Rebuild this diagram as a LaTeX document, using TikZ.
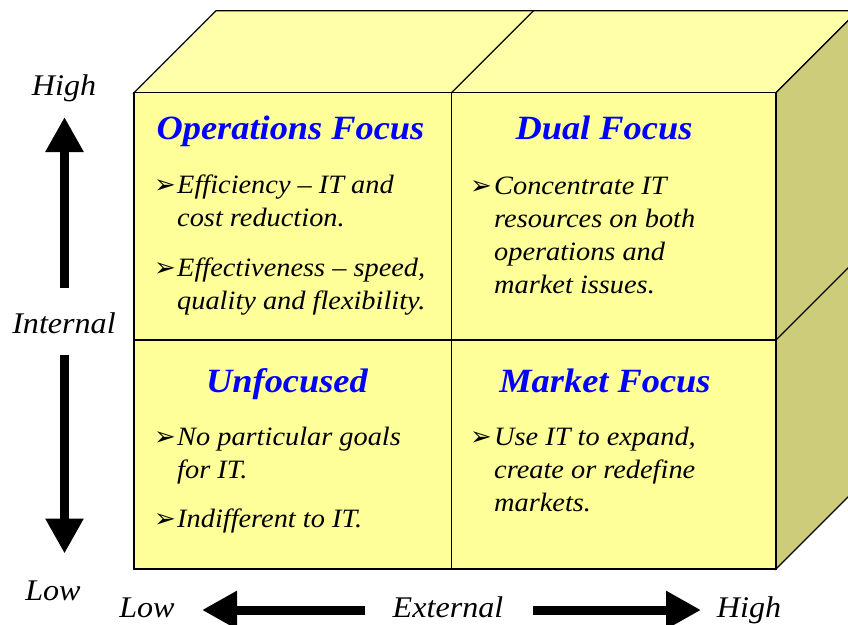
\documentclass[tikz,border=0pt]{standalone}
\usepackage{fontspec}
\setmainfont{Liberation Serif}
\newfontfamily\symfont{DejaVu Sans}
\newfontfamily\strfont[FakeStretch=1.07]{Liberation Serif}
\usetikzlibrary{arrows.meta}
\definecolor{frontY}{RGB}{255,255,153}
\definecolor{topY}{RGB}{255,255,170}
\definecolor{sideY}{RGB}{204,204,122}
\definecolor{titleB}{RGB}{0,0,255}
\tikzset{
  face/.style={draw=black, line width=1.3pt, line join=miter},
  divider/.style={draw=black, line width=1.3pt},
  celltitle/.style={font=\strfont\bfseries\itshape\fontsize{34}{34}\selectfont, text=titleB, anchor=base, inner sep=0pt},
  bodytext/.style={font=\strfont\itshape\fontsize{26.5}{33}\selectfont, anchor=base west, inner sep=0pt},
  bulletmark/.style={font=\symfont\fontsize{26}{26}\selectfont, anchor=base west, inner sep=0pt},
  axislabel/.style={font=\strfont\itshape\fontsize{30}{30}\selectfont, anchor=base, inner sep=0pt},
  bigarrow/.style={line width=9pt, -{Triangle[length=35pt,width=36pt]}},
}
\begin{document}
\begin{tikzpicture}[x=1pt,y=-1pt]
\useasboundingbox (0,0) rectangle (848,624);
\fill[white] (0,0) rectangle (848,624);
\begin{scope}
\clip (0,0) rectangle (848,624);
% top face
\path[face, fill=topY] (134,92.7) -- (216,10.7) -- (858,10.7) -- (776,92.7) -- cycle;
% right face
\path[face, fill=sideY] (776,92.7) -- (858,10.7) -- (858,487) -- (776,569) -- cycle;
% front face
\path[face, fill=frontY] (134,92.7) rectangle (776,569);
% dividers
\coordinate (fmt) at (451.5,92.7);
\coordinate (fmb) at (451.5,569);
\coordinate (tmb) at (533.5,10.7);
\coordinate (fml) at (134,340);
\coordinate (fmr) at (776,340);
\coordinate (smr) at (858,258);
\draw[divider] (fmt) -- (fmb);
\draw[divider] (fmt) -- (tmb);
\draw[divider] (fml) -- (fmr);
\draw[divider] (fmr) -- (smr);
\end{scope}

% titles
\node[celltitle] (opsT) at (290.5,139.3) {Operations Focus};
\node[celltitle] (dualT) at (604,139.3) {Dual Focus};
\node[celltitle] (unfT) at (287,392) {Unfocused};
\node[celltitle] (mktT) at (605,392) {Market Focus};

% operations focus
\node[bulletmark] (ob1) at (154,193) {➢};
\node[bodytext] (o1a) at (177,193) {Efficiency – IT and};
\node[bodytext] (o1b) at (177,226) {cost reduction.};
\node[bulletmark] (ob2) at (154,276) {➢};
\node[bodytext] (o2a) at (177,276) {Effectiveness – speed,};
\node[bodytext] (o2b) at (177,309) {quality and flexibility.};

% dual focus
\node[bulletmark] (db1) at (470,194) {➢};
\node[bodytext] (d1a) at (494,194) {Concentrate IT};
\node[bodytext] (d1b) at (494,227) {resources on both};
\node[bodytext] (d1c) at (494,260) {operations and};
\node[bodytext] (d1d) at (494,293) {market issues.};

% unfocused
\node[bulletmark] (ub1) at (154,445) {➢};
\node[bodytext] (u1a) at (177,445) {No particular goals};
\node[bodytext] (u1b) at (177,478) {for IT.};
\node[bulletmark] (ub2) at (154,527) {➢};
\node[bodytext] (u2a) at (177,527) {Indifferent to IT.};

% market focus
\node[bulletmark] (mb1) at (470,445) {➢};
\node[bodytext] (m1a) at (494,445) {Use IT to expand,};
\node[bodytext] (m1b) at (494,478) {create or redefine};
\node[bodytext] (m1c) at (494,511) {markets.};

% axis labels
\node[axislabel] (vhigh) at (64,95) {High};
\node[axislabel] (vint) at (64,333) {Internal};
\node[axislabel] (vlow) at (53,600) {Low};
\node[axislabel] (hlow) at (147,617) {Low};
\node[axislabel] (hext) at (448,617) {External};
\node[axislabel] (hhigh) at (749,617) {High};

% axis arrows
\coordinate (upS) at (64.5,288);
\coordinate (upE) at (64.5,117);
\coordinate (dnS) at (64.5,355);
\coordinate (dnE) at (64.5,553.5);
\coordinate (lfS) at (365,610);
\coordinate (lfE) at (202,610);
\coordinate (rtS) at (533,610);
\coordinate (rtE) at (701,610);
\draw[bigarrow] (upS) -- (upE);
\draw[bigarrow] (dnS) -- (dnE);
\draw[bigarrow] (lfS) -- (lfE);
\draw[bigarrow] (rtS) -- (rtE);
\end{tikzpicture}
\end{document}
